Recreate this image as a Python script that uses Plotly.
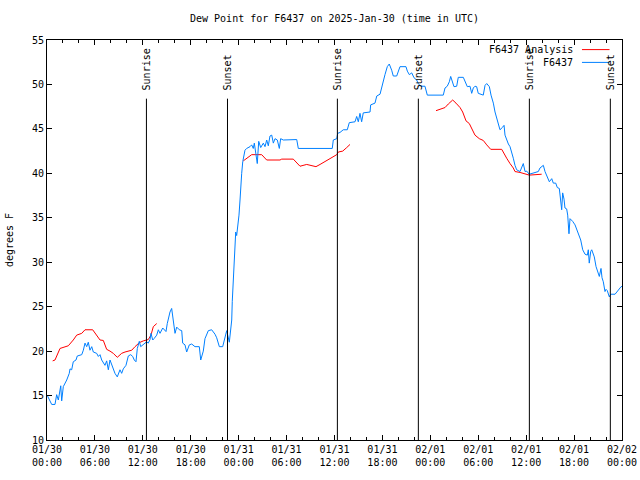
import pandas as pd
import plotly.graph_objects as go

BASE = pd.Timestamp("2025-01-30 00:00")

# Observations (hours since 2025-01-30 00:00 UTC, dew point degF)
obs_hours = [0.04, 0.59, 1.0, 1.21, 1.42, 1.72, 1.84, 2.04, 2.47, 2.79, 2.88, 3.09, 3.29, 3.63, 3.79,
             4.35, 4.55, 4.76, 4.97, 5.17, 5.38, 5.6, 5.8, 6.22, 6.43, 6.64, 6.85, 7.26, 7.47, 7.68,
             7.89, 8.1, 8.3, 8.51, 8.8, 9.14, 9.35, 9.55, 9.89, 10.18, 10.48, 10.73, 10.93, 11.14,
             11.31, 11.56, 11.73, 12.06, 12.27, 12.48, 12.68, 12.9, 13.02, 13.24, 13.4, 13.74, 13.94,
             14.15, 14.49, 14.9, 15.06, 15.4, 15.61, 15.82, 16.03, 16.24, 16.57, 16.87, 16.99, 17.28,
             17.49, 17.82, 18.12, 18.53, 19.07, 19.25, 19.57, 19.78, 20.2, 20.62, 21.04, 21.25, 21.58,
             22.0, 22.29, 22.5, 22.83, 23.13, 23.2, 23.33, 23.5, 23.63, 23.75, 23.88, 24.04, 24.17,
             24.25, 24.38, 24.51, 24.67, 24.79, 25.0, 25.42, 25.63, 25.83, 25.96, 26.17, 26.33, 26.51,
             26.76, 27.09, 27.3, 27.51, 27.71, 27.92, 28.14, 28.34, 28.55, 28.84, 29.09, 29.26, 29.59,
             31.27, 31.47, 35.72, 35.85, 36.28, 36.4, 36.69, 37.1, 37.6, 37.85, 38.57, 38.78, 38.98,
             39.19, 39.4, 39.6, 40.45, 40.53, 41.07, 41.29, 41.7, 41.91, 42.11, 42.32, 42.61, 42.86,
             43.16, 43.36, 43.79, 43.99, 44.2, 44.95, 45.12, 45.37, 45.67, 45.96, 46.29, 46.49, 46.79,
             47.33, 47.62, 49.62, 49.84, 50.12, 50.38, 50.55, 50.75, 50.96, 51.3, 51.5, 52.13, 52.34,
             52.63, 52.97, 53.18, 53.38, 53.59, 53.8, 54.0, 54.63, 54.85, 55.06, 55.39, 55.6, 55.89,
             56.1, 56.31, 56.51, 56.72, 57.06, 57.23, 57.35, 57.56, 57.77, 57.98, 58.19, 58.39, 58.6,
             58.81, 59.23, 59.44, 59.64, 59.86, 60.07, 60.39, 60.85, 61.52, 61.73, 61.94, 62.15, 62.36,
             62.57, 62.9, 63.2, 63.4, 63.7, 63.9, 64.15, 64.32, 64.45, 64.57, 64.74, 64.86, 65.07,
             65.2, 65.28, 65.36, 65.49, 65.82, 66.12, 66.4, 66.65, 66.83, 67.08, 67.37, 67.66, 67.78,
             67.9, 68.08, 68.21, 68.41, 68.53, 68.75, 68.91, 69.03, 69.16, 69.37, 69.5, 69.66, 69.87,
             70.0, 70.16, 70.41, 70.58, 71.13, 71.54, 71.84, 72.0]
obs_values = [15.0, 14.0, 14.0, 15.1, 14.5, 16.1, 14.4, 16.0, 16.75, 17.5, 18.0, 17.9, 18.8, 19.0, 19.45,
              19.6, 20.1, 20.9, 20.5, 21.0, 20.1, 20.5, 19.9, 19.75, 19.4, 19.6, 19.0, 18.4, 18.9, 17.9,
              19.0, 18.4, 17.9, 17.5, 17.1, 17.9, 17.5, 18.0, 18.4, 19.45, 19.6, 19.4, 19.0, 18.8,
              20.3, 21.1, 20.5, 20.7, 20.9, 21.05, 20.9, 21.3, 22.0, 21.25, 21.4, 21.8, 22.4,
              22.0, 22.6, 22.2, 23.1, 24.4, 24.8, 23.5, 22.0, 22.7, 22.4, 22.3, 20.9, 20.7,
              19.9, 20.7, 20.8, 20.5, 20.5, 19.0, 20.0, 21.4, 22.3, 22.4, 21.9, 21.5, 20.5,
              20.5, 21.5, 22.3, 21.0, 23.5, 25.6, 28.4, 31.75, 33.4, 33.0, 33.8, 35.3, 37.0,
              38.5, 40.0, 41.3, 41.9, 42.6, 42.8, 43.0, 43.2, 42.8, 43.4, 41.9, 41.1, 43.6,
              42.9, 43.4, 43.0, 43.75, 43.1, 44.2, 44.3, 43.4, 43.9, 43.75, 42.8, 43.9, 43.75,
              43.8, 42.8, 42.8, 43.75, 43.9, 44.5, 44.6, 44.9, 44.9, 45.7, 45.8, 46.4, 45.8,
              46.75, 45.8, 46.8, 46.9, 47.7, 47.9, 48.7, 48.9, 49.75, 50.2, 51.1, 52.0, 52.3,
              51.6, 50.95, 50.95, 51.5, 52.0, 52.0, 51.5, 51.1, 51.3, 50.75, 50.5, 50.1, 49.8,
              49.8, 48.8, 48.8, 49.6, 49.8, 50.3, 50.9, 50.3, 49.75, 49.8, 50.8, 50.8, 50.3,
              49.75, 49.8, 49.0, 49.6, 49.8, 49.75, 49.0, 48.8, 49.9, 50.1, 49.75, 48.8, 47.9,
              46.9, 46.2, 45.4, 44.9, 45.2, 45.4, 44.3, 43.75, 43.3, 43.0, 42.4, 41.7, 40.9,
              40.4, 40.2, 40.75, 41.1, 40.2, 40.25, 39.9, 40.0, 40.2, 40.6, 40.75, 40.9, 40.2,
              39.8, 39.05, 39.4, 38.9, 38.9, 38.4, 38.3, 36.6, 35.9, 37.8, 37.1, 36.1, 36.0,
              35.3, 34.2, 33.2, 34.9, 34.6, 34.2, 33.6, 32.95, 32.5, 31.4, 30.9, 30.8, 31.4,
              29.9, 31.2, 31.4, 30.9, 30.6, 29.5, 29.05, 28.6, 28.4, 29.3, 28.25, 27.8, 26.7,
              26.95, 26.8, 26.1, 26.4, 26.4, 26.9, 27.2, 27.3]

# Analysis segments
ana1_hours = [0.71, 1.0, 1.63, 2.04, 2.67, 3.29, 3.72, 4.35, 4.76, 5.72, 6.22, 6.64, 7.05, 7.47, 7.89,
              8.3, 8.8, 9.35, 9.77, 10.18, 10.61, 11.02, 11.56, 12.06, 12.68, 13.02, 13.31, 13.74]
ana1_values = [18.9, 19.0, 20.3, 20.4, 20.6, 21.25, 21.8, 22.0, 22.4, 22.4, 21.8, 21.25, 21.2, 20.2, 20.0,
               19.75, 19.3, 19.75, 19.9, 20.0, 20.1, 20.5, 20.95, 21.15, 21.3, 21.8, 22.75, 23.1]
ana2_hours = [24.58, 25.0, 25.63, 26.88, 27.51, 29.18, 29.39, 30.84, 31.68, 32.52, 33.14, 33.68, 34.19,
              34.81, 35.65, 36.28, 36.48, 37.03, 37.53, 37.94]
ana2_values = [41.4, 41.7, 42.1, 42.1, 41.5, 41.5, 41.6, 41.6, 40.8, 41.0, 40.9, 40.75, 41.0,
               41.3, 41.75, 42.1, 42.4, 42.5, 42.9, 43.25]
ana3_hours = [48.71, 49.42, 49.84, 50.25, 50.8, 51.21, 51.72, 52.05, 52.47, 52.88, 53.18, 53.59, 54.13,
              54.63, 55.06, 55.56, 56.94, 57.23, 57.56, 57.98, 58.39, 58.6, 59.23, 60.39, 61.94]
ana3_values = [47.05, 47.3, 47.4, 47.8, 48.25, 47.9, 47.4, 46.9, 45.9, 45.6, 45.0, 44.3, 43.9,
               43.7, 43.2, 42.7, 42.7, 42.3, 41.7, 41.1, 40.6, 40.2, 40.1, 39.8, 39.9]

sun_hours = [12.45, 22.6, 36.36, 46.5, 60.4, 70.54]
sun_labels = ["Sunrise", "Sunset", "Sunrise", "Sunset", "Sunrise", "Sunset"]

title = "Dew Point for F6437 on 2025-Jan-30 (time in UTC)"
FONT = "DejaVu Sans Mono"


def to_time(hours):
    return [BASE + pd.Timedelta(hours=h) for h in hours]


ana_x, ana_y = [], []
for hs, vs in [(ana1_hours, ana1_values), (ana2_hours, ana2_values), (ana3_hours, ana3_values)]:
    if ana_x:
        ana_x.append(None)
        ana_y.append(None)
    ana_x += to_time(hs)
    ana_y += vs

fig = go.Figure()
fig.add_trace(go.Scatter(x=ana_x, y=ana_y, mode="lines", name="F6437 Analysis",
                         line=dict(color="#ff0000", width=1), connectgaps=False))
fig.add_trace(go.Scatter(x=to_time(obs_hours), y=obs_values, mode="lines", name="F6437",
                         line=dict(color="#0080ff", width=1)))

for h, lab in zip(sun_hours, sun_labels):
    t = BASE + pd.Timedelta(hours=h)
    fig.add_shape(type="line", xref="x", yref="y", x0=t, x1=t, y0=10, y1=48.4,
                  line=dict(color="black", width=1))
    fig.add_annotation(x=t, y=49.15, xref="x", yref="y", text=lab, textangle=-90,
                       showarrow=False, xanchor="center", yanchor="bottom",
                       font=dict(family=FONT, size=10, color="black"))

# manual gnuplot-style legend (text left of sample)
legend_items = [("F6437 Analysis", "#ff0000", 0.976), ("F6437", "#0080ff", 0.944)]
for txt, col, yy in legend_items:
    fig.add_annotation(x=0.918, y=yy, xref="paper", yref="paper", text=txt, showarrow=False,
                       xanchor="right", yanchor="middle",
                       font=dict(family=FONT, size=10, color="black"))
    fig.add_shape(type="line", xref="paper", yref="paper", x0=0.9304, x1=0.9783, y0=yy, y1=yy,
                  line=dict(color=col, width=1))

# y-axis title placed manually
fig.add_annotation(x=-0.066, y=0.5, xref="paper", yref="paper", text="degrees F", textangle=-90,
                   showarrow=False, xanchor="center", yanchor="middle",
                   font=dict(family=FONT, size=10, color="black"))

fig.update_layout(
    width=640, height=480,
    margin=dict(l=47, r=18, t=40, b=40, autoexpand=False),
    paper_bgcolor="white", plot_bgcolor="white",
    showlegend=False,
    font=dict(family=FONT, size=10, color="black"),
    title=dict(text=title, x=0.5, xref="paper", y=0.969, yref="container", yanchor="top",
               font=dict(family=FONT, size=10, color="black")),
)
fig.update_xaxes(
    type="date", automargin=False,
    range=[BASE, BASE + pd.Timedelta(hours=72)],
    dtick=6 * 3600 * 1000, tick0=BASE,
    tickformat="%m/%d<br>%H:%M",
    ticks="inside", ticklen=5, tickcolor="black",
    minor=dict(dtick=2 * 3600 * 1000, tick0=BASE, ticks="inside", ticklen=3, tickcolor="black"),
    showline=True, linecolor="black", linewidth=1, mirror="ticks",
    showgrid=False, zeroline=False,
    tickfont=dict(family=FONT, size=10, color="black"),
)
fig.update_yaxes(
    range=[10, 55], dtick=5, tick0=10, automargin=False,
    ticks="inside", ticklen=5, tickcolor="black",
    showline=True, linecolor="black", linewidth=1, mirror="ticks",
    showgrid=False, zeroline=False,
    tickfont=dict(family=FONT, size=10, color="black"),
)

fig.write_html("out.html", config={"displayModeBar": False},
               post_script="document.body.style.margin='0';document.body.style.padding='0';")
